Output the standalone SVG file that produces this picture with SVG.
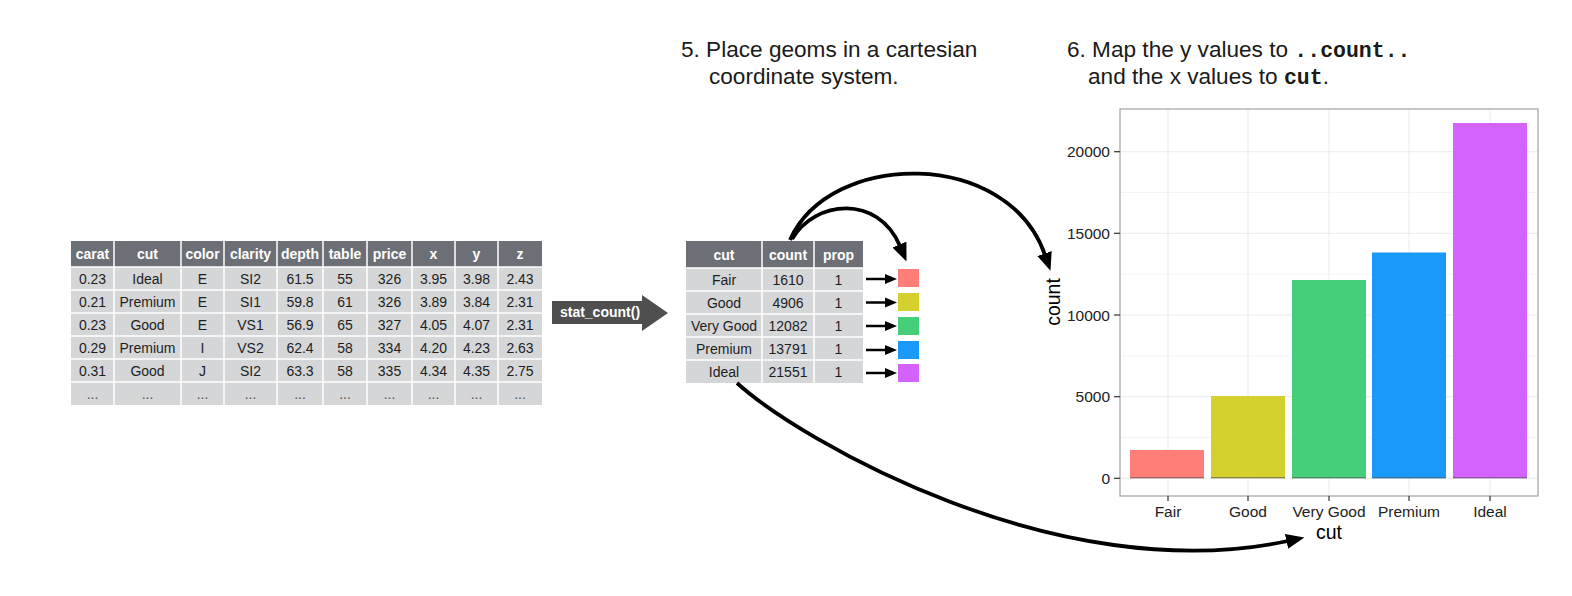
<svg xmlns="http://www.w3.org/2000/svg" width="1572" height="596" viewBox="0 0 1572 596">
<style>
.t{font-family:"Liberation Sans",Arial,sans-serif;}
.cap{font-family:"Liberation Sans",Arial,sans-serif;font-size:22.6px;fill:#1a1a1a;}
.mono{font-family:"Liberation Mono","DejaVu Sans Mono",monospace;font-weight:bold;font-size:21.5px;}
.hd{font-family:"Liberation Sans",Arial,sans-serif;font-size:14px;font-weight:bold;fill:#fff;text-anchor:middle;}
.bd{font-family:"Liberation Sans",Arial,sans-serif;font-size:14px;fill:#1e1e1e;text-anchor:middle;}
.grid{stroke:#fff;stroke-width:1.5;}
.conn{fill:none;stroke:#000;stroke-width:3.8;marker-end:url(#ah);}
.sm{fill:none;stroke:#000;stroke-width:2.5;marker-end:url(#ah);}
.gmaj{stroke:#ebebeb;stroke-width:1;}
.gmin{stroke:#f4f4f4;stroke-width:1;}
.tick{stroke:#333;stroke-width:1.2;}
.tl{font-family:"Liberation Sans",Arial,sans-serif;font-size:15.5px;fill:#222;}
.ax{font-family:"Liberation Sans",Arial,sans-serif;font-size:19.5px;fill:#000;text-anchor:middle;}
</style>
<defs>
<marker id="ah" viewBox="0 0 12 10" refX="1" refY="5" markerWidth="4.8" markerHeight="4.2" orient="auto" markerUnits="strokeWidth">
<path d="M0,0 L12,5 L0,10 z" fill="#000"/>
</marker>
</defs>
<rect width="1572" height="596" fill="#fff"/>

<g id="caption5">
<text class="cap" x="681" y="57">5. Place geoms in a cartesian</text>
<text class="cap" x="709" y="84">coordinate system.</text>
</g>

<g id="caption6">
<text class="cap" x="1067" y="57">6. Map the y values to <tspan class="mono">..count..</tspan></text>
<text class="cap" x="1088" y="84">and the x values to <tspan class="mono">cut</tspan>.</text>
</g>

<g id="diamonds-table">
<rect x="71" y="241" width="471" height="164" fill="#d5d6d8"/>
<rect x="71" y="241" width="471" height="26" fill="#6c6f75"/>
<g class="grid">
<line x1="114" y1="241" x2="114" y2="405"/><line x1="181" y1="241" x2="181" y2="405"/>
<line x1="224" y1="241" x2="224" y2="405"/><line x1="277" y1="241" x2="277" y2="405"/>
<line x1="323" y1="241" x2="323" y2="405"/><line x1="367" y1="241" x2="367" y2="405"/>
<line x1="412" y1="241" x2="412" y2="405"/><line x1="455" y1="241" x2="455" y2="405"/>
<line x1="498" y1="241" x2="498" y2="405"/>
<line x1="71" y1="267" x2="542" y2="267"/><line x1="71" y1="290" x2="542" y2="290"/>
<line x1="71" y1="313" x2="542" y2="313"/><line x1="71" y1="336" x2="542" y2="336"/>
<line x1="71" y1="359" x2="542" y2="359"/><line x1="71" y1="382" x2="542" y2="382"/>
</g>
<text class="hd" y="259"><tspan x="92.5">carat</tspan><tspan x="147.5">cut</tspan><tspan x="202.5">color</tspan><tspan x="250.5">clarity</tspan><tspan x="300">depth</tspan><tspan x="345">table</tspan><tspan x="389.5">price</tspan><tspan x="433.5">x</tspan><tspan x="476.5">y</tspan><tspan x="520">z</tspan></text>
<text class="bd" y="283.5"><tspan x="92.5">0.23</tspan><tspan x="147.5">Ideal</tspan><tspan x="202.5">E</tspan><tspan x="250.5">SI2</tspan><tspan x="300">61.5</tspan><tspan x="345">55</tspan><tspan x="389.5">326</tspan><tspan x="433.5">3.95</tspan><tspan x="476.5">3.98</tspan><tspan x="520">2.43</tspan></text>
<text class="bd" y="306.5"><tspan x="92.5">0.21</tspan><tspan x="147.5">Premium</tspan><tspan x="202.5">E</tspan><tspan x="250.5">SI1</tspan><tspan x="300">59.8</tspan><tspan x="345">61</tspan><tspan x="389.5">326</tspan><tspan x="433.5">3.89</tspan><tspan x="476.5">3.84</tspan><tspan x="520">2.31</tspan></text>
<text class="bd" y="329.5"><tspan x="92.5">0.23</tspan><tspan x="147.5">Good</tspan><tspan x="202.5">E</tspan><tspan x="250.5">VS1</tspan><tspan x="300">56.9</tspan><tspan x="345">65</tspan><tspan x="389.5">327</tspan><tspan x="433.5">4.05</tspan><tspan x="476.5">4.07</tspan><tspan x="520">2.31</tspan></text>
<text class="bd" y="352.5"><tspan x="92.5">0.29</tspan><tspan x="147.5">Premium</tspan><tspan x="202.5">I</tspan><tspan x="250.5">VS2</tspan><tspan x="300">62.4</tspan><tspan x="345">58</tspan><tspan x="389.5">334</tspan><tspan x="433.5">4.20</tspan><tspan x="476.5">4.23</tspan><tspan x="520">2.63</tspan></text>
<text class="bd" y="375.5"><tspan x="92.5">0.31</tspan><tspan x="147.5">Good</tspan><tspan x="202.5">J</tspan><tspan x="250.5">SI2</tspan><tspan x="300">63.3</tspan><tspan x="345">58</tspan><tspan x="389.5">335</tspan><tspan x="433.5">4.34</tspan><tspan x="476.5">4.35</tspan><tspan x="520">2.75</tspan></text>
<text class="bd" y="398.5" style="fill:#555"><tspan x="92.5">...</tspan><tspan x="147.5">...</tspan><tspan x="202.5">...</tspan><tspan x="250.5">...</tspan><tspan x="300">...</tspan><tspan x="345">...</tspan><tspan x="389.5">...</tspan><tspan x="433.5">...</tspan><tspan x="476.5">...</tspan><tspan x="520">...</tspan></text>
</g>

<g id="stat-count">
<path d="M552,301 L642,301 L642,295 L668,313 L642,331 L642,324 L552,324 z" fill="#4f4f4f"/>
<text class="t" x="600" y="317" font-size="14" font-weight="bold" fill="#fff" text-anchor="middle">stat_count()</text>
</g>

<g id="counts-table">
<rect x="686" y="241" width="177" height="142" fill="#d5d6d8"/>
<rect x="686" y="241" width="177" height="27" fill="#6c6f75"/>
<g class="grid">
<line x1="762" y1="241" x2="762" y2="383"/><line x1="814" y1="241" x2="814" y2="383"/>
<line x1="686" y1="268" x2="863" y2="268"/><line x1="686" y1="291" x2="863" y2="291"/>
<line x1="686" y1="314" x2="863" y2="314"/><line x1="686" y1="337" x2="863" y2="337"/>
<line x1="686" y1="360" x2="863" y2="360"/>
</g>
<text class="hd" y="259.5"><tspan x="724">cut</tspan><tspan x="788">count</tspan><tspan x="838.5">prop</tspan></text>
<text class="bd" y="284.5"><tspan x="724">Fair</tspan><tspan x="788">1610</tspan><tspan x="838.5">1</tspan></text>
<text class="bd" y="307.5"><tspan x="724">Good</tspan><tspan x="788">4906</tspan><tspan x="838.5">1</tspan></text>
<text class="bd" y="330.5"><tspan x="724">Very Good</tspan><tspan x="788">12082</tspan><tspan x="838.5">1</tspan></text>
<text class="bd" y="353.5"><tspan x="724">Premium</tspan><tspan x="788">13791</tspan><tspan x="838.5">1</tspan></text>
<text class="bd" y="376.5"><tspan x="724">Ideal</tspan><tspan x="788">21551</tspan><tspan x="838.5">1</tspan></text>
</g>

<g id="geom-squares">
<rect x="898" y="269" width="21" height="18" fill="#ff7f78"/>
<rect x="898" y="293" width="21" height="18" fill="#d4d02d"/>
<rect x="898" y="317" width="21" height="18" fill="#46cf7b"/>
<rect x="898" y="341" width="21" height="18" fill="#1a99fa"/>
<rect x="898" y="364" width="21" height="18" fill="#d462fc"/>
</g>

<g id="chart">
<rect x="1120" y="109" width="418" height="387" fill="#fff"/>
<g class="gmin">
<line x1="1120" y1="437.5" x2="1538" y2="437.5"/><line x1="1120" y1="356" x2="1538" y2="356"/>
<line x1="1120" y1="274" x2="1538" y2="274"/><line x1="1120" y1="192.5" x2="1538" y2="192.5"/>
</g>
<g class="gmaj">
<line x1="1120" y1="478.3" x2="1538" y2="478.3"/><line x1="1120" y1="396.7" x2="1538" y2="396.7"/>
<line x1="1120" y1="315" x2="1538" y2="315"/><line x1="1120" y1="233.3" x2="1538" y2="233.3"/>
<line x1="1120" y1="151.7" x2="1538" y2="151.7"/>
<line x1="1168" y1="109" x2="1168" y2="496"/><line x1="1248" y1="109" x2="1248" y2="496"/>
<line x1="1329" y1="109" x2="1329" y2="496"/><line x1="1409" y1="109" x2="1409" y2="496"/>
<line x1="1490" y1="109" x2="1490" y2="496"/>
</g>
<rect x="1130" y="450" width="74" height="28.3" fill="#ff7f78"/>
<rect x="1211" y="396" width="74" height="82.3" fill="#d4d02d"/>
<rect x="1292" y="280" width="74" height="198.3" fill="#46cf7b"/>
<rect x="1372" y="252.5" width="74" height="225.8" fill="#1a99fa"/>
<rect x="1453" y="123" width="74" height="355.3" fill="#d462fc"/>
<g stroke="#555" stroke-opacity="0.6" stroke-width="1.2">
<line x1="1130" y1="477.7" x2="1204" y2="477.7"/><line x1="1211" y1="477.7" x2="1285" y2="477.7"/>
<line x1="1292" y1="477.7" x2="1366" y2="477.7"/><line x1="1372" y1="477.7" x2="1446" y2="477.7"/>
<line x1="1453" y1="477.7" x2="1527" y2="477.7"/>
</g>
<rect x="1120" y="109" width="418" height="387" fill="none" stroke="#a8a8a8" stroke-width="1.3"/>
<g class="tick">
<line x1="1114" y1="478.3" x2="1120" y2="478.3"/><line x1="1114" y1="396.7" x2="1120" y2="396.7"/>
<line x1="1114" y1="315" x2="1120" y2="315"/><line x1="1114" y1="233.3" x2="1120" y2="233.3"/>
<line x1="1114" y1="151.7" x2="1120" y2="151.7"/>
<line x1="1168" y1="496" x2="1168" y2="501"/><line x1="1248" y1="496" x2="1248" y2="501"/>
<line x1="1329" y1="496" x2="1329" y2="501"/><line x1="1409" y1="496" x2="1409" y2="501"/>
<line x1="1490" y1="496" x2="1490" y2="501"/>
</g>
<g class="tl" text-anchor="end">
<text x="1110" y="483.8">0</text>
<text x="1110" y="402.2">5000</text>
<text x="1110" y="320.5">10000</text>
<text x="1110" y="238.8">15000</text>
<text x="1110" y="157.2">20000</text>
</g>
<g class="tl" text-anchor="middle">
<text x="1168" y="517">Fair</text>
<text x="1248" y="517">Good</text>
<text x="1329" y="517">Very Good</text>
<text x="1409" y="517">Premium</text>
<text x="1490" y="517">Ideal</text>
</g>
<text class="ax" x="1329" y="539">cut</text>
<text class="ax" transform="translate(1060,302) rotate(-90)">count</text>
</g>

<g id="connectors">
<path class="conn" d="M790,240 C830,150 1008,148 1045,255"/>
<path class="conn" d="M792,239 C815,200 878,194 900,246"/>
<path class="conn" d="M737,383 C800,440 1058,590 1288,541"/>
<line class="sm" x1="866" y1="279" x2="886" y2="279"/>
<line class="sm" x1="866" y1="302.5" x2="886" y2="302.5"/>
<line class="sm" x1="866" y1="326" x2="886" y2="326"/>
<line class="sm" x1="866" y1="350" x2="886" y2="350"/>
<line class="sm" x1="866" y1="373" x2="886" y2="373"/>
</g>
</svg>
